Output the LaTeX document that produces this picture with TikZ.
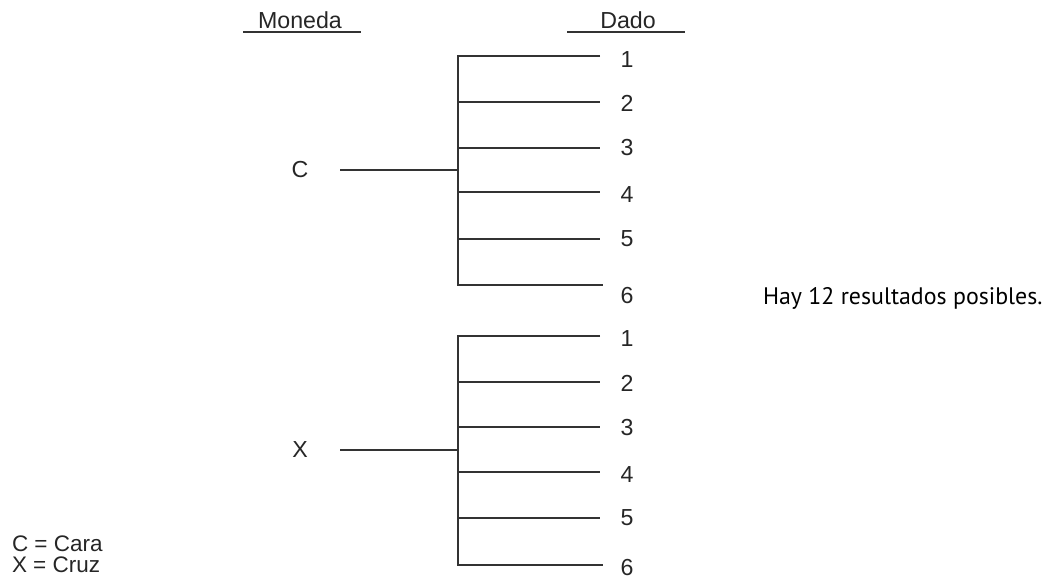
\documentclass[tikz,border=0pt]{standalone}
\usepackage{fontspec}
\setmainfont{Liberation Sans}
\newfontfamily\notefont{PT Sans}

\begin{document}
\begin{tikzpicture}[
  x = 0.02cm,
  y = -0.02cm,
  lbl/.style = {
    font = \fontsize{13.2}{15}\selectfont,
    text = black!85,
    inner sep = 0pt,
    outer sep = 0pt,
  },
  rule/.style = {
    draw = black!80,
    line width = 0.6pt
  }
]
  \useasboundingbox (0, 0) rectangle (1049, 581);

  % headings with their rules
  \node[lbl] (moneda) at (300, 20) {Moneda};
  \node[lbl] (dado) at (628, 20) {Dado};
  \coordinate (m0) at (243, 32);
  \coordinate (m1) at (361, 32);
  \coordinate (d0) at (567, 32);
  \coordinate (d1) at (685, 32);
  \draw[rule] (m0) -- (m1);
  \draw[rule] (d0) -- (d1);

  % cara
  \node[lbl] (c) at (300, 170) {C};
  \coordinate (c0) at (340, 170);
  \coordinate (cj) at (458, 170);
  \coordinate (c1e) at (600, 56);
  \coordinate (c2e) at (600, 102);
  \coordinate (c3e) at (600, 148);
  \coordinate (c4e) at (600, 192);
  \coordinate (c5e) at (600, 239);
  \coordinate (c6e) at (603, 285);
  \node[lbl] (c1) at (627, 60) {1};
  \node[lbl] (c2) at (627, 103) {2};
  \node[lbl] (c3) at (627, 148) {3};
  \node[lbl] (c4) at (627, 195) {4};
  \node[lbl] (c5) at (627, 239) {5};
  \node[lbl] (c6) at (627, 296) {6};

  \draw[rule] (c0) -- (cj);
  \draw[rule] (c1e) -| (cj) |- (c6e);
  \draw[rule] (cj |- c2e) -- (c2e);
  \draw[rule] (cj |- c3e) -- (c3e);
  \draw[rule] (cj |- c4e) -- (c4e);
  \draw[rule] (cj |- c5e) -- (c5e);

  % cruz
  \node[lbl] (x) at (300, 450) {X};
  \coordinate (x0) at (340, 450);
  \coordinate (xj) at (458, 450);
  \coordinate (x1e) at (600, 336);
  \coordinate (x2e) at (600, 382);
  \coordinate (x3e) at (600, 427);
  \coordinate (x4e) at (600, 472);
  \coordinate (x5e) at (600, 518);
  \coordinate (x6e) at (603, 565);
  \node[lbl] (x1) at (627, 339) {1};
  \node[lbl] (x2) at (627, 383) {2};
  \node[lbl] (x3) at (627, 428) {3};
  \node[lbl] (x4) at (627, 475) {4};
  \node[lbl] (x5) at (627, 518) {5};
  \node[lbl] (x6) at (627, 568) {6};

  \draw[rule] (x0) -- (xj);
  \draw[rule] (x1e) -| (xj) |- (x6e);
  \draw[rule] (xj |- x2e) -- (x2e);
  \draw[rule] (xj |- x3e) -- (x3e);
  \draw[rule] (xj |- x4e) -- (x4e);
  \draw[rule] (xj |- x5e) -- (x5e);

  % note and legend
  \node[lbl, anchor = west, font = \notefont\fontsize{13.6}{16}\selectfont, text = black]
    (total) at (763, 298) {Hay 12 resultados posibles.};
  \node[lbl, anchor = north west, align = left, font = \fontsize{12.8}{11.8}\selectfont]
    (legend) at (12, 536) {C = Cara\\X = Cruz};
\end{tikzpicture}
\end{document}
